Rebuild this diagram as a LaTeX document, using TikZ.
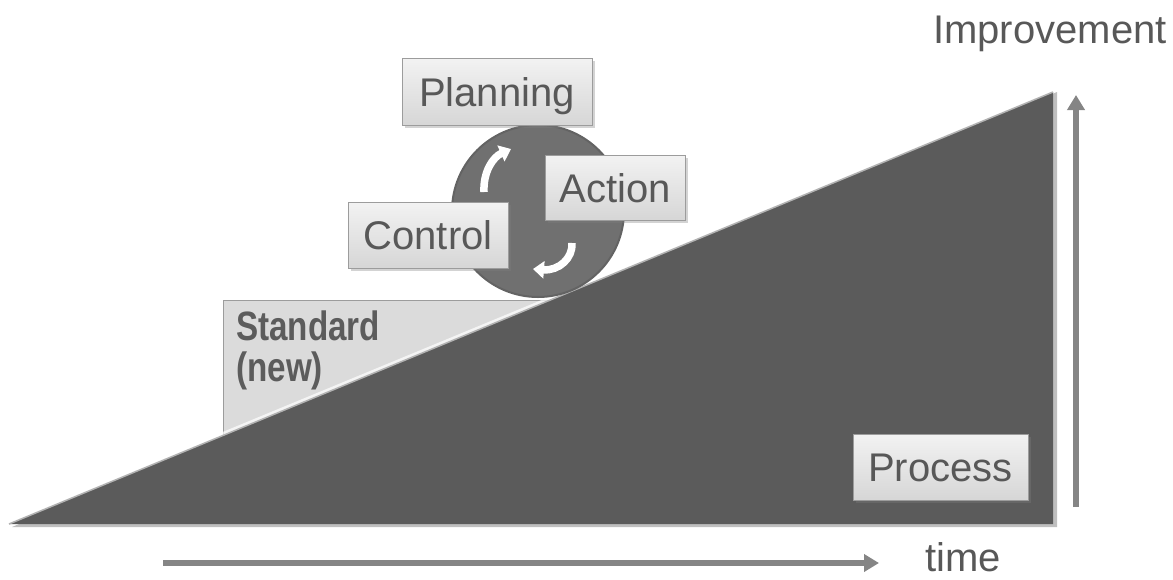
\documentclass[tikz,border=0pt]{standalone}
\usepackage{fontspec}
\setmainfont{Liberation Sans}
\newfontfamily\stdfont[FakeStretch=0.81]{Liberation Sans}
\usetikzlibrary{arrows.meta,shadows,calc}
\definecolor{tri}{HTML}{5B5B5B}
\definecolor{txt}{HTML}{585858}
\definecolor{boxline}{HTML}{9C9C9C}
\definecolor{axis}{HTML}{858585}
\definecolor{ball}{HTML}{707070}
\tikzset{
  box/.style={draw=boxline, line width=1pt, top color=white!95!black, bottom color=white!84!black,
    text=txt, font=\fontsize{40}{40}\selectfont, inner sep=0pt, text height=29pt, text depth=0pt,
    drop shadow={opacity=0.35, shadow xshift=3pt, shadow yshift=-3pt}},
  lbl/.style={text=txt, font=\fontsize{40}{40}\selectfont, inner sep=0pt},
  axisarrow/.style={draw=axis, line width=6pt, -{Triangle[width=17pt,length=15pt]}},
  cyc/.style={draw=white, line width=7.5pt, -{Triangle[width=17pt,length=11pt]}}
}
\begin{document}
\begin{tikzpicture}[x=1pt,y=-1pt]
\useasboundingbox (0,0) rectangle (1173,579);
% triangle corners
\coordinate (tl) at (9,524);
\coordinate (tr) at (1053,524);
\coordinate (tt) at (1053,92);
% standard (new) box
\fill[white!86!black, draw=boxline, line width=1pt] (223,300) rectangle (600,520);
\node[anchor=base west, inner sep=0pt, text=txt!105!black, font=\fontsize{41}{40}\selectfont\stdfont\bfseries] (std1) at (236,340) {Standard};
\node[anchor=base west, inner sep=0pt, text=txt!105!black, font=\fontsize{41}{40}\selectfont\stdfont\bfseries] (std2) at (236,381) {(new)};
% triangle
\fill[black, opacity=0.25] ($(tl)+(3,3)$) -- ($(tr)+(4,3)$) -- ($(tt)+(4,0)$) -- cycle;
\fill[tri] (tl) -- (tr) -- (tt) -- cycle;
\draw[white, opacity=0.7, line width=3pt] ($(tl)+(0,-2)$) -- ($(tt)+(0,-2)$);
\draw[white!70!black, line width=1.5pt] (tl) -- (tt);
% ball
\node[circle, fill=ball, draw=ball!88!black, line width=2pt, minimum size=172pt, inner sep=0pt] (ball) at (538,211) {};
\coordinate (a1s) at (484,192);
\coordinate (a1e) at (511,149);
\coordinate (a2s) at (572,243);
\coordinate (a2e) at (533,269);
\draw[cyc] (a1s) .. controls (483,172) and (493,157) .. (a1e);
\draw[cyc] (a2s) .. controls (573,258) and (559,271) .. (a2e);
% boxes
\node[box, minimum width=190pt, minimum height=67pt] (plan) at (497,91.5) {Planning};
\node[box, minimum width=140pt, minimum height=65pt] (act) at (615,187.5) {Action};
\node[box, minimum width=160pt, minimum height=66pt] (ctrl) at (428,235) {Control};
\node[box, minimum width=175pt, minimum height=66pt] (proc) at (940.5,467) {Process};
% axes
\coordinate (h0) at (163,563);
\coordinate (h1) at (879,563);
\coordinate (v0) at (1076,507);
\coordinate (v1) at (1076,95);
\draw[axisarrow] (h0) -- (h1);
\draw[axisarrow] (v0) -- (v1);
\node[lbl, anchor=base west] (imp) at (933,43) {Improvement};
\node[lbl, anchor=base west] (time) at (925,571) {time};
\end{tikzpicture}
\end{document}
